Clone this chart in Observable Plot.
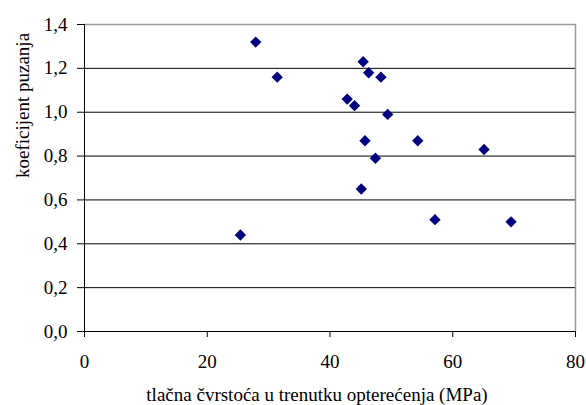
<!DOCTYPE html>
<html>
<head>
<meta charset="utf-8">
<script src="https://cdn.jsdelivr.net/npm/d3@7"></script>
<script src="https://cdn.jsdelivr.net/npm/@observablehq/plot@0.6"></script>
<style>
  html, body { margin: 0; padding: 0; background: #fff; }
  #chart svg { display: block; }
</style>
</head>
<body>
<div id="chart"></div>
<script>
const strength = [27.9, 31.4, 45.4, 46.3, 48.3, 42.8, 44.0, 49.4, 45.7, 54.3, 65.1, 47.4, 45.1, 25.4, 57.1, 69.5];
const creep    = [1.32, 1.16, 1.23, 1.18, 1.16, 1.06, 1.03, 0.99, 0.87, 0.87, 0.83, 0.79, 0.65, 0.44, 0.51, 0.50];
const xTicks = [0, 20, 40, 60, 80];
const yTicks = [0, 0.2, 0.4, 0.6, 0.8, 1.0, 1.2, 1.4];
const gridY = [0.2, 0.4, 0.6, 0.8, 1.0, 1.2];
const xLabel = "tlačna čvrstoća u trenutku opterećenja (MPa)";
const yLabel = "koeficijent puzanja";

const data = strength.map((s, i) => ({x: s, y: creep[i]}));
const fmt = d => d.toFixed(1).replace(".", ",");
const FONT = "'Times New Roman', 'Liberation Serif', Tinos, 'DejaVu Serif', serif";

const chart = Plot.plot({
  width: 586,
  height: 405,
  marginLeft: 84,
  marginRight: 11,
  marginTop: 24,
  marginBottom: 74,
  style: {fontSize: "19px", color: "black", background: "white", fontFamily: FONT},
  x: {domain: [0, 80]},
  y: {domain: [0, 1.4]},
  marks: [
    Plot.ruleY(gridY, {stroke: "black", strokeWidth: 1}),
    Plot.ruleY([1.4], {stroke: "#999", strokeWidth: 1.5}),
    Plot.ruleX([80], {stroke: "#999", strokeWidth: 1.5}),
    Plot.ruleX([0], {stroke: "black", strokeWidth: 1}),
    Plot.ruleY([0], {stroke: "black", strokeWidth: 1}),
    Plot.axisY(yTicks, {tickSize: 7, tickPadding: 10, tickFormat: fmt, stroke: "black", fill: "black", fontSize: 19, fontFamily: FONT, label: null}),
    Plot.axisX(xTicks, {tickSize: 6, tickPadding: 17, stroke: "black", fill: "black", fontSize: 19, fontFamily: FONT, label: null}),
    Plot.dot(data, {x: "x", y: "y", symbol: "diamond2", r: 5.1, fill: "#000080", stroke: "none"}),
    Plot.text([xLabel], {frameAnchor: "bottom", lineAnchor: "bottom", dy: 69, dx: -13, fontSize: 19, fontFamily: FONT, fill: "black"}),
    Plot.text([yLabel], {frameAnchor: "left", rotate: -90, dx: -62, fontSize: 19, fontFamily: FONT, fill: "black"})
  ]
});
document.getElementById("chart").appendChild(chart);
</script>
</body>
</html>
